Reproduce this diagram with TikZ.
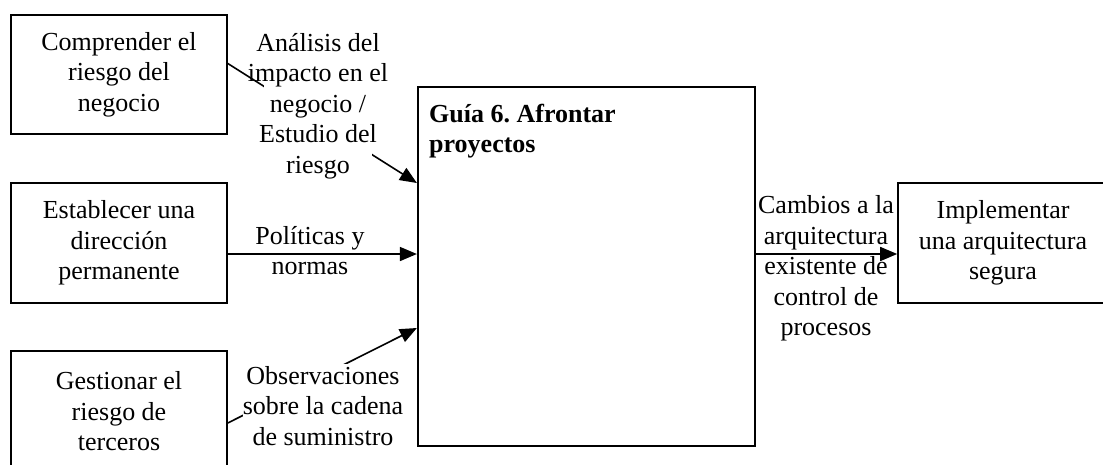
\documentclass[tikz,border=0pt]{standalone}
\usepackage{fontspec}
\setmainfont{Liberation Serif}
\usetikzlibrary{arrows.meta}
\frenchspacing
\tikzset{
  box/.style={draw=black, line width=1.6pt, fill=white, minimum width=216pt, align=center, inner sep=0pt},
  mainbox/.style={draw=black, line width=2.2pt, minimum width=337pt, minimum height=359pt, inner sep=0pt},
  lbl/.style={align=center, inner sep=0pt},
  arr/.style={line width=1.6pt, -{Triangle[length=17pt,width=14pt]}},
}
\begin{document}
\begin{tikzpicture}[x=1pt,y=-1pt, every node/.style={font=\fontsize{26}{30.5}\selectfont}]
\useasboundingbox (0,0) rectangle (1103,464);
% boxes
\node[box, minimum height=119pt] (b1) at (119,74.5) {Comprender el\\riesgo del\\negocio};
\node[box, minimum height=120pt] (b2) at (119,243) {Establecer una\\dirección\\permanente};
\node[box, minimum height=121pt] (b3) at (119,411.5) {Gestionar el\\riesgo de\\terceros};
\node[mainbox] (m) at (586.5,266.5) {};
\node[box, minimum width=210pt, minimum height=120pt] (rb) at (1003,243) {Implementar\\una arquitectura\\segura};
\node[inner sep=0pt, align=left, anchor=north west, font=\fontsize{26}{30.5}\selectfont\bfseries] (title) at (429,103.5) {Guía 6. Afrontar\\proyectos};
% connectors
\draw[arr] ([yshift=11pt]b1.east) -- ([yshift=83.5pt]m.west);
\draw[arr] ([yshift=-11pt]b2.east) -- ([yshift=12.5pt]m.west);
\draw[arr] ([yshift=-11.5pt]b3.east) -- ([yshift=-61.5pt]m.west);
\draw[arr] ([yshift=12.5pt]m.east) -- ([yshift=-11pt]rb.west);
% labels
\node[lbl, fill=white, inner xsep=-16pt] (l1) at (318,106) {Análisis del\\impacto en el\\negocio /\\Estudio del\\riesgo};
\node[lbl] (l2) at (310,250.5) {Políticas y\\normas};
\node[lbl, fill=white, inner ysep=2pt] (l3) at (323,406) {Observaciones\\sobre la cadena\\de suministro};
\node[lbl] (l4) at (826,268.5) {Cambios a la\\arquitectura\\existente de\\control de\\procesos};
\end{tikzpicture}
\end{document}
